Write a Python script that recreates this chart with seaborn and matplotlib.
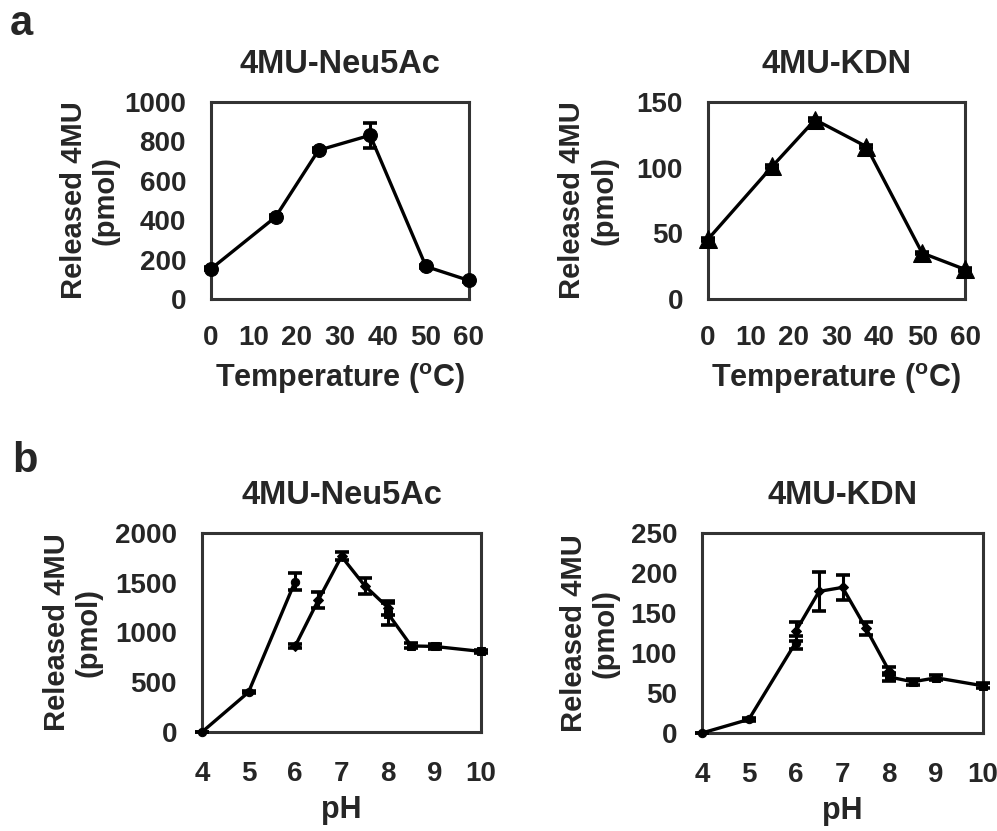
import numpy as np
import pandas as pd
import matplotlib
matplotlib.use("Agg")
import matplotlib.pyplot as plt
import seaborn as sns

# ---- data ----
# a: temperature dependence
temp_c = [0, 15, 25, 37, 50, 60]
neu5ac_temp = [153, 416, 755, 831, 165, 94]
neu5ac_temp_err = [8, 10, 10, 63, 8, 6]
kdn_temp = [45.5, 101, 136.5, 116, 35, 22.5]
kdn_temp_err = [1, 1, 1, 1, 1, 1]

# b: pH dependence, three buffer series each
ph_a = [4, 5, 6]
ph_b = [6, 6.5, 7, 7.5, 8]
ph_c = [8, 8.5, 9, 10]

neu5ac_ph_a = [0, 400, 1510]
neu5ac_ph_a_err = [5, 12, 85]
neu5ac_ph_b = [860, 1325, 1765, 1470, 1250]
neu5ac_ph_b_err = [20, 80, 40, 80, 70]
neu5ac_ph_c = [1190, 865, 860, 810]
neu5ac_ph_c_err = [110, 25, 25, 15]

kdn_ph_a = [0, 17, 113]
kdn_ph_a_err = [0.5, 2, 8]
kdn_ph_b = [127, 177, 182, 131, 77]
kdn_ph_b_err = [12, 24, 16, 8, 5]
kdn_ph_c = [70, 64, 69, 59]
kdn_ph_c_err = [5, 4, 3, 3]

ylabel = "Released 4MU\n(pmol)"


def draw_series(ax, x, y, err, marker, ms):
    df = pd.DataFrame({"x": x, "y": y})
    sns.lineplot(data=df, x="x", y="y", ax=ax, color="black", linewidth=2.4,
                 marker=marker, markersize=ms, markeredgecolor="black",
                 markerfacecolor="black", sort=False, clip_on=False, zorder=3)
    ax.errorbar(x, y, yerr=err, fmt="none", ecolor="black", elinewidth=2.2,
                capsize=5, capthick=2.6, clip_on=False, zorder=4)


def style_axes(ax, title, xlabel, xticks, yticks, ypad, xpad, ylab_x, xlab_y):
    ax.set_xlim(xticks[0], xticks[-1])
    ax.set_ylim(yticks[0], yticks[-1])
    ax.set_xticks(xticks)
    ax.set_yticks(yticks)
    ax.set_title(title, fontsize=23.5, fontweight="bold", pad=21)
    ax.set_xlabel(xlabel, fontsize=22, fontweight="bold")
    ax.set_ylabel(ylabel, fontsize=21, fontweight="bold")
    ax.yaxis.set_label_coords(ylab_x, 0.5)
    ax.xaxis.set_label_coords(0.5, xlab_y)
    for s in ax.spines.values():
        s.set_visible(True)
        s.set_linewidth(2.2)
        s.set_color("#333333")
    ax.tick_params(axis="both", direction="in", length=7, width=2.2,
                   color="#333333", labelsize=20, top=False, right=False)
    ax.tick_params(axis="y", pad=ypad)
    ax.tick_params(axis="x", pad=xpad)
    for lab in ax.get_xticklabels() + ax.get_yticklabels():
        lab.set_fontweight("bold")
    ax.grid(False)


def main():
    sns.set_theme(style="white")
    plt.rcParams["font.family"] = ["Liberation Sans", "DejaVu Sans"]
    plt.rcParams["font.weight"] = "bold"
    plt.rcParams["mathtext.fontset"] = "custom"
    plt.rcParams["mathtext.rm"] = "Liberation Sans:bold"
    plt.rcParams["mathtext.bf"] = "Liberation Sans:bold"

    W, H = 997, 831
    fig = plt.figure(figsize=(W / 100, H / 100), dpi=100)
    fig.patch.set_facecolor("white")

    def rect(x0, x1, y0, y1):
        return [x0 / W, 1 - y1 / H, (x1 - x0) / W, (y1 - y0) / H]

    ax1 = fig.add_axes(rect(211, 469, 102, 299))
    ax2 = fig.add_axes(rect(708, 965, 102, 299))
    ax3 = fig.add_axes(rect(202, 481, 533, 732))
    ax4 = fig.add_axes(rect(702, 983, 533, 733))

    temp_label = r"Temperature ($^{\mathbf{o}}$C)"
    temp_ticks = [0, 10, 20, 30, 40, 50, 60]
    ph_ticks = [4, 5, 6, 7, 8, 9, 10]

    # a
    draw_series(ax1, temp_c, neu5ac_temp, neu5ac_temp_err, "o", 10)
    style_axes(ax1, "4MU-Neu5Ac", temp_label, temp_ticks,
               [0, 200, 400, 600, 800, 1000], 18, 18.5, -0.353, -0.315)

    draw_series(ax2, temp_c, kdn_temp, kdn_temp_err, "^", 13)
    style_axes(ax2, "4MU-KDN", temp_label, temp_ticks,
               [0, 50, 100, 150], 18, 18.5, -0.35, -0.315)

    # b
    draw_series(ax3, ph_a, neu5ac_ph_a, neu5ac_ph_a_err, "o", 6)
    draw_series(ax3, ph_b, neu5ac_ph_b, neu5ac_ph_b_err, "D", 5)
    draw_series(ax3, ph_c, neu5ac_ph_c, neu5ac_ph_c_err, "s", 6)
    style_axes(ax3, "4MU-Neu5Ac", "pH", ph_ticks,
               [0, 500, 1000, 1500, 2000], 18, 21, -0.355, -0.315)

    draw_series(ax4, ph_a, kdn_ph_a, kdn_ph_a_err, "o", 6)
    draw_series(ax4, ph_b, kdn_ph_b, kdn_ph_b_err, "D", 5)
    draw_series(ax4, ph_c, kdn_ph_c, kdn_ph_c_err, "s", 6)
    style_axes(ax4, "4MU-KDN", "pH", ph_ticks,
               [0, 50, 100, 150, 200, 250], 18, 21, -0.292, -0.315)

    fig.text(10 / W, 1 - 35 / H, "a", fontsize=30, fontweight="bold", va="baseline")
    fig.text(12 / W, 1 - 472 / H, "b", fontsize=30, fontweight="bold", va="baseline")

    fig.savefig("out.png", dpi=100)


if __name__ == "__main__":
    main()
